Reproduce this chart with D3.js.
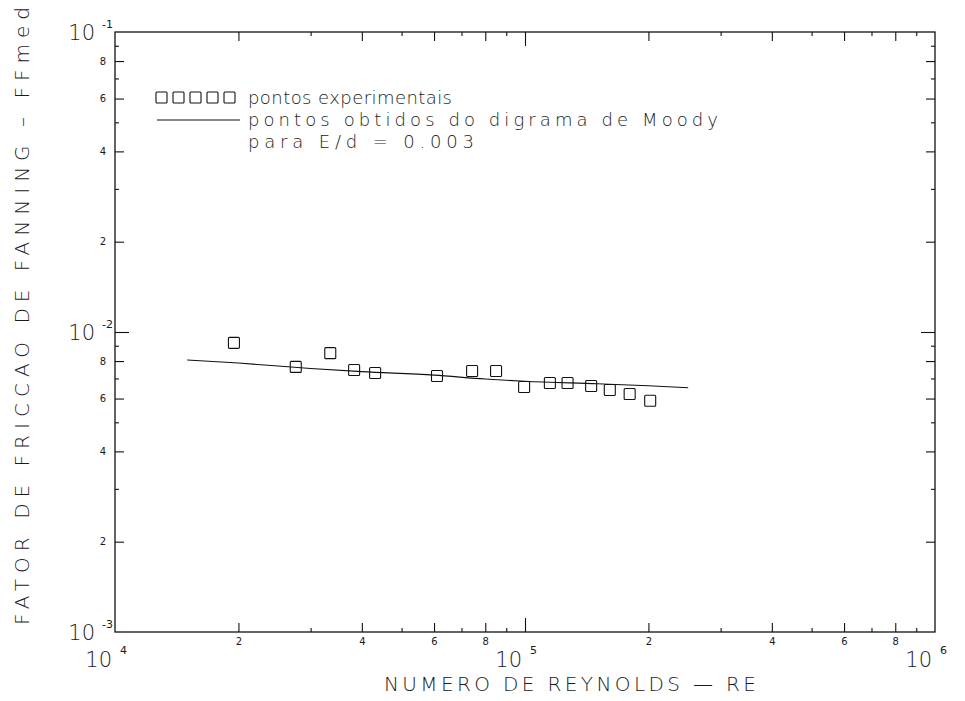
<!DOCTYPE html>
<html>
<head>
<meta charset="utf-8">
<script src="https://cdn.jsdelivr.net/npm/d3@7"></script>
<style>
  html, body { margin: 0; padding: 0; background: #fff; }
  svg { display: block; }
  text { font-family: "DejaVu Sans", "Liberation Sans", sans-serif; font-weight: 200; fill: #1a1a1a; }
</style>
</head>
<body>
<svg id="chart" width="965" height="701"></svg>
<script>
// Experimental points: Reynolds number and mean Fanning friction factor
const reExp = [1.95e4, 2.76e4, 3.35e4, 3.83e4, 4.31e4, 6.1e4, 7.43e4, 8.5e4,
               9.95e4, 1.15e5, 1.27e5, 1.45e5, 1.61e5, 1.8e5, 2.02e5];
const ffExp = [9.2e-3, 7.65e-3, 8.5e-3, 7.47e-3, 7.3e-3, 7.13e-3, 7.41e-3, 7.41e-3,
               6.56e-3, 6.76e-3, 6.76e-3, 6.61e-3, 6.41e-3, 6.21e-3, 5.9e-3];

// Moody diagram curve for E/d = 0.003
const reMoody = [1.5e4, 2e4, 3e4, 4e4, 6e4, 8e4, 1e5, 1.5e5, 2e5, 2.5e5];
const ffMoody = [8.07e-3, 7.88e-3, 7.56e-3, 7.38e-3, 7.18e-3, 6.97e-3, 6.85e-3, 6.72e-3, 6.62e-3, 6.52e-3];

// Axis decades and intermediate tick multipliers
const xDecades = [1e4, 1e5, 1e6];
const xDecadeExp = ["4", "5", "6"];
const yDecades = [1e-3, 1e-2, 1e-1];
const yDecadeExp = ["-3", "-2", "-1"];
const labeledMult = [2, 4, 6, 8];
const minorMult = [3, 5, 7, 9];

// Legend lines and their drawn widths
const legendLines = ["pontos  experimentais", "pontos  obtidos  do  digrama  de  Moody", "para    E/d  =  0.003"];
const legendWidths = [204, 470, 226];

const svg = d3.select("#chart");
const L = 115, R = 935, T = 32, B = 632;

const x = d3.scaleLog().domain([1e4, 1e6]).range([L, R]);
const y = d3.scaleLog().domain([1e-3, 1e-1]).range([B, T]);

const mult = (decs, ms) => decs.slice(0, -1).flatMap(d => ms.map(m => d * m));
const xLab = mult(xDecades, labeledMult), xMin = mult(xDecades, minorMult);
const yLab = mult(yDecades, labeledMult), yMin = mult(yDecades, minorMult);

const smallFmt = v => String(Math.round(v / Math.pow(10, Math.floor(Math.log10(v) + 1e-9))));

function styleAxis(g) {
  g.select(".domain").remove();
  g.selectAll(".tick line").attr("stroke", "#111").attr("stroke-width", 1.1);
  g.selectAll(".tick text").style("font-size", "10px").style("font-weight", 400);
}

// Frame
svg.append("rect").attr("x", L).attr("y", T).attr("width", R - L).attr("height", B - T)
  .attr("fill", "none").attr("stroke", "#111").attr("stroke-width", 1.3);

// Bottom and top ticks (pointing inward)
svg.append("g").attr("transform", `translate(0,${B})`)
  .call(d3.axisBottom(x).tickValues(xLab).tickSize(-9).tickPadding(6).tickFormat(smallFmt)).call(styleAxis);
svg.append("g").attr("transform", `translate(0,${B})`)
  .call(d3.axisBottom(x).tickValues(xMin).tickSize(-4).tickFormat("")).call(styleAxis);
svg.append("g").attr("transform", `translate(0,${T})`)
  .call(d3.axisTop(x).tickValues(xLab).tickSize(-9).tickFormat("")).call(styleAxis);
svg.append("g").attr("transform", `translate(0,${T})`)
  .call(d3.axisTop(x).tickValues(xMin).tickSize(-4).tickFormat("")).call(styleAxis);
svg.append("g").attr("transform", `translate(0,${B})`)
  .call(d3.axisBottom(x).tickValues(xDecades.slice(1, -1)).tickSize(-14).tickFormat("")).call(styleAxis);
svg.append("g").attr("transform", `translate(0,${T})`)
  .call(d3.axisTop(x).tickValues(xDecades.slice(1, -1)).tickSize(-14).tickFormat("")).call(styleAxis);

// Left and right ticks (pointing inward)
svg.append("g").attr("transform", `translate(${L},0)`)
  .call(d3.axisLeft(y).tickValues(yLab).tickSize(-9).tickPadding(9).tickFormat(smallFmt)).call(styleAxis);
svg.append("g").attr("transform", `translate(${L},0)`)
  .call(d3.axisLeft(y).tickValues(yMin).tickSize(-4).tickFormat("")).call(styleAxis);
svg.append("g").attr("transform", `translate(${R},0)`)
  .call(d3.axisRight(y).tickValues(yLab).tickSize(-9).tickFormat("")).call(styleAxis);
svg.append("g").attr("transform", `translate(${R},0)`)
  .call(d3.axisRight(y).tickValues(yMin).tickSize(-4).tickFormat("")).call(styleAxis);
svg.append("g").attr("transform", `translate(${L},0)`)
  .call(d3.axisLeft(y).tickValues(yDecades.slice(1, -1)).tickSize(-14).tickFormat("")).call(styleAxis);
svg.append("g").attr("transform", `translate(${R},0)`)
  .call(d3.axisRight(y).tickValues(yDecades.slice(1, -1)).tickSize(-14).tickFormat("")).call(styleAxis);

// Decade labels as 10 with raised exponent
xDecades.forEach((d, i) => {
  const cx = x(d);
  svg.append("text").attr("x", cx - 3).attr("y", B + 35).attr("text-anchor", "end")
    .style("font-size", "21px").text("10");
  svg.append("text").attr("x", cx + 5).attr("y", B + 22)
    .style("font-size", "11px").style("font-weight", 400).text(xDecadeExp[i]);
});
yDecades.forEach((d, i) => {
  const cy = y(d);
  svg.append("text").attr("x", L - 20).attr("y", cy + 8).attr("text-anchor", "end")
    .style("font-size", "21px").text("10");
  svg.append("text").attr("x", L - 13).attr("y", cy - 4)
    .style("font-size", "11px").style("font-weight", 400).text(yDecadeExp[i]);
});

// Axis titles
svg.append("text").attr("x", 570).attr("y", 691).attr("text-anchor", "middle")
  .attr("textLength", 372).attr("lengthAdjust", "spacing")
  .style("font-size", "20px").text("NUMERO DE REYNOLDS  —  RE");
svg.append("text").attr("transform", "translate(29,316) rotate(-90)").attr("text-anchor", "middle")
  .attr("textLength", 618).attr("lengthAdjust", "spacing")
  .style("font-size", "20px").text("FATOR DE FRICCAO DE FANNING  –  FFmed");

// Moody curve
const line = d3.line().x(d => x(d[0])).y(d => y(d[1])).curve(d3.curveMonotoneX);
svg.append("path").datum(reMoody.map((r, i) => [r, ffMoody[i]]))
  .attr("d", line).attr("fill", "none").attr("stroke", "#111").attr("stroke-width", 1.1);

// Experimental points
const s = 11;
svg.append("g").selectAll("rect").data(reExp.map((r, i) => [r, ffExp[i]])).join("rect")
  .attr("x", d => x(d[0]) - s / 2).attr("y", d => y(d[1]) - s / 2)
  .attr("width", s).attr("height", s).attr("rx", 1)
  .attr("fill", "none").attr("stroke", "#111").attr("stroke-width", 1.1);

// Legend
const lg = svg.append("g");
d3.range(5).forEach(k => {
  lg.append("rect").attr("x", 156 + k * 17).attr("y", 92).attr("width", 11).attr("height", 11)
    .attr("rx", 1).attr("fill", "none").attr("stroke", "#111").attr("stroke-width", 1.1);
});
lg.append("line").attr("x1", 157).attr("x2", 240).attr("y1", 120).attr("y2", 120)
  .attr("stroke", "#111").attr("stroke-width", 1.1);
legendLines.forEach((t, i) => {
  lg.append("text").attr("x", 248).attr("y", 104 + i * 22)
    .attr("textLength", legendWidths[i]).attr("lengthAdjust", "spacing")
    .style("font-size", "18px").text(t);
});
</script>
</body>
</html>
